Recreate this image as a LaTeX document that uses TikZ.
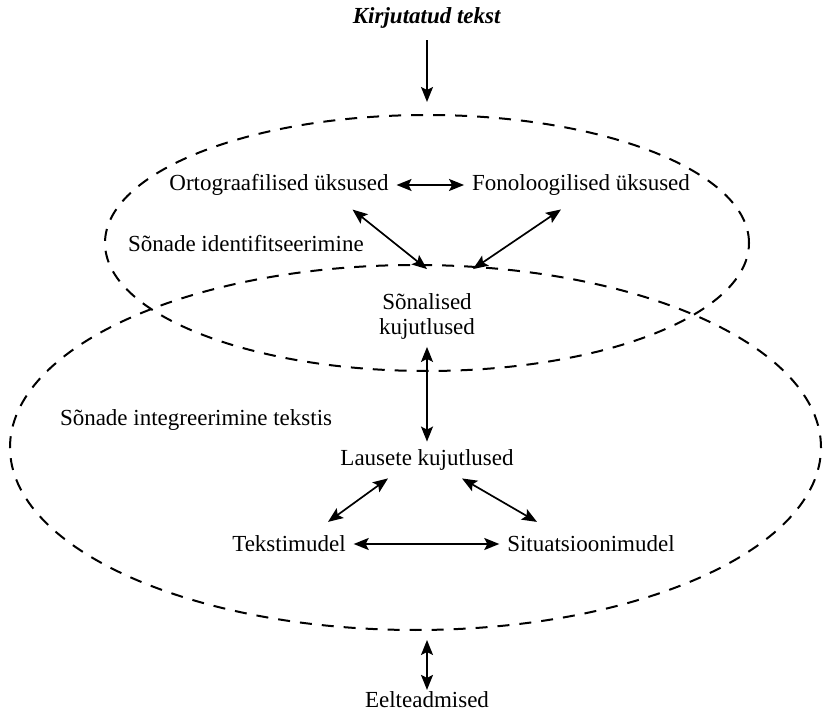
\documentclass[tikz,border=0pt]{standalone}
\usepackage{fontspec}
\setmainfont{Liberation Serif}
\usetikzlibrary{arrows.meta, shapes.geometric}

\begin{document}
\begin{tikzpicture}[x=0.5pt, y=-0.5pt,
  lbl/.style={font=\fontsize{11.5}{12.5}\selectfont, inner sep=4pt, outer sep=0pt},
  zone/.style={ellipse, draw, dashed, line width=1pt, dash pattern=on 6pt off 5pt, inner sep=0pt, outer sep=0pt},
  arr/.style={{Stealth[length=7.5pt, width=6pt, inset=1.5pt]}-{Stealth[length=7.5pt, width=6pt, inset=1.5pt]}, line width=0.85pt},
  down/.style={-{Stealth[length=7.5pt, width=6pt, inset=1.5pt]}, line width=0.85pt}]

\useasboundingbox (0,0) rectangle (825,716);

% Title
\node[lbl] (title) at (427,18) {\textbf{\textit{Kirjutatud tekst}}};

% Dashed zones
\node[zone, minimum width=322pt, minimum height=128pt] (upper) at (427,243) {};
\node[zone, minimum width=405.5pt, minimum height=182.5pt] (lower) at (415.5,447.5) {};

% Labels
\node[lbl] (ort) at (279,185) {Ortograafilised üksused};
\node[lbl] (fon) at (581,185) {Fonoloogilised üksused};
\node[lbl, anchor=west] (ident) at (120,244) {Sõnade identifitseerimine};
\node[lbl, align=center] (son) at (427,316) {Sõnalised\\kujutlused};
\node[lbl, anchor=west] (integ) at (52,420) {Sõnade integreerimine tekstis};
\node[lbl] (lau) at (427,460) {Lausete kujutlused};
\node[lbl] (tek) at (289,544) {Tekstimudel};
\node[lbl] (sit) at (591,544) {Situatsioonimudel};
\node[lbl] (eel) at (427,700) {Eelteadmised};

% Arrows
\draw[down] ([yshift=-2pt]title.south) -- ([yshift=6.5pt]upper.north);
\draw[arr] (ort) -- (fon);
\draw[arr] ([xshift=-22pt, yshift=-3pt]ort.south east) -- ([yshift=8pt]son.north);
\draw[arr] ([xshift=-10pt, yshift=-3pt]fon.south) -- ([xshift=23pt, yshift=8pt]son.north);
\draw[arr] (son) -- (lau);
\draw[arr] ([xshift=-19.5pt]lau.south) -- ([xshift=19.5pt, yshift=3pt]tek.north);
\draw[arr] ([xshift=17.5pt]lau.south) -- ([xshift=-27pt, yshift=3pt]sit.north);
\draw[arr] (tek) -- (sit);
\draw[arr] ([xshift=5.75pt, yshift=-5pt]lower.south) -- ([yshift=-3pt]eel.north);

\end{tikzpicture}
\end{document}
